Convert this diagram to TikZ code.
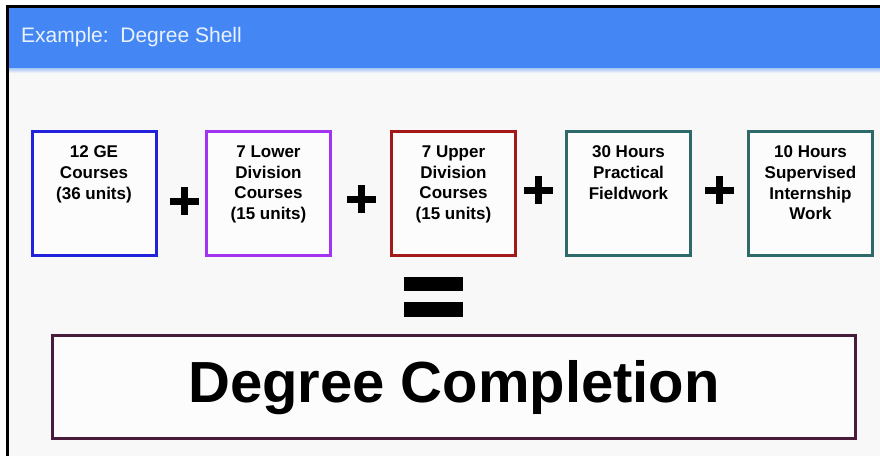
\documentclass[tikz,border=0pt]{standalone}
\usepackage{fontspec}
\setmainfont{Liberation Sans}
\definecolor{hdr}{HTML}{4487F4}
\definecolor{hdrtext}{HTML}{EAF2FC}
\definecolor{bgc}{HTML}{F8F8F8}
\definecolor{cblue}{HTML}{2222DD}
\definecolor{cpurple}{HTML}{A233F0}
\definecolor{cred}{HTML}{A31818}
\definecolor{cteal}{HTML}{2E6A6A}
\definecolor{cplum}{HTML}{4A1C3C}
\tikzset{
  unitbox/.style={draw, line width=3pt, fill=white!60!bgc, minimum width=124pt, minimum height=124pt, inner sep=0pt},
  unittext/.style={anchor=north, inner sep=0pt, align=center, font=\fontsize{17}{20.6}\selectfont\bfseries},
  bigbox/.style={draw=cplum, line width=3pt, fill=white!60!bgc, minimum width=803pt, minimum height=103pt, inner sep=0pt},
  bigtext/.style={anchor=base, inner sep=0pt, font=\fontsize{58}{66}\selectfont\bfseries},
  titletext/.style={anchor=base west, inner sep=0pt, text=hdrtext, font=\fontsize{21}{24}\selectfont}
}
\newcommand{\plussign}[2]{%
  \fill (#1-14.5,#2-3.5) rectangle (#1+14.5,#2+3.5);
  \fill (#1-3.5,#2-14) rectangle (#1+3.5,#2+14);}
\begin{document}
\begin{tikzpicture}[x=1pt,y=-1pt]
\useasboundingbox (0,0) rectangle (880,456);
\fill[white] (0,0) rectangle (880,456);
\fill[bgc] (9,7) rectangle (880,456);
\fill[hdr] (9,7) rectangle (880,68);
\shade[top color=hdr!45!bgc, bottom color=bgc] (9,68) rectangle (880,73);
\fill[black] (6,5) rectangle (880,7.5);
\fill[black] (6,5) rectangle (9,456);
\node[titletext] (title) at (21,42) {Example:\ \ Degree Shell};

\node[unitbox, draw=cblue]   (b1) at (94,193.5) {};
\node[unitbox, draw=cpurple] (b2) at (268.5,193.5) {};
\node[unitbox, draw=cred]    (b3) at (453.5,193.5) {};
\node[unitbox, draw=cteal]   (b4) at (628.5,193.5) {};
\node[unitbox, draw=cteal]   (b5) at (810.5,193.5) {};

\node[unittext] (t1) at (94,145.8) {12 GE\\Courses\\(36 units)};
\node[unittext] (t2) at (268.5,145.8) {7 Lower\\Division\\Courses\\(15 units)};
\node[unittext] (t3) at (453.5,145.8) {7 Upper\\Division\\Courses\\(15 units)};
\node[unittext] (t4) at (628.5,145.8) {30 Hours\\Practical\\Fieldwork};
\node[unittext] (t5) at (810.5,145.8) {10 Hours\\Supervised\\Internship\\Work};

\plussign{184}{201}
\plussign{361}{199}
\plussign{538}{190}
\plussign{719.5}{190}

\fill (404,277) rectangle (463,291);
\fill (404,302) rectangle (463,317);

\node[bigbox] (total) at (454,387) {};
\node[bigtext] (totaltext) at (454,402) {Degree Completion};
\end{tikzpicture}
\end{document}
